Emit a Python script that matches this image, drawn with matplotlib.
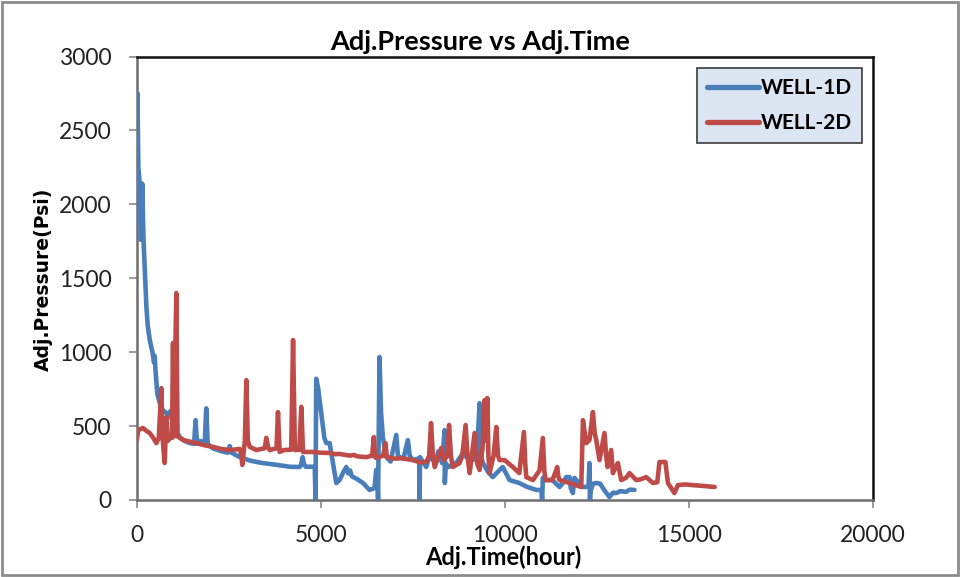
import matplotlib
matplotlib.use("Agg")
import matplotlib.pyplot as plt
from matplotlib.patches import Rectangle

# WELL-1D: adjusted time (hours) and adjusted pressure (psi)
well1_time = [0, 20, 45, 80, 110, 125, 150, 185, 230, 265, 300, 350, 400, 430, 470, 490, 510,
              560, 620, 700, 800, 880, 910, 940, 1050, 1170, 1300, 1440, 1560, 1600, 1640,
              1700, 1850, 1890, 1930, 2065, 2300, 2480, 2530, 2580, 2800, 3100, 3420, 3800,
              4157, 4430, 4470, 4510, 4550, 4600, 4800, 4840, 4860, 4880, 4930, 4972, 5100,
              5153, 5244, 5335, 5425, 5515, 5600, 5697, 5750, 5800, 5850, 6000, 6150, 6330,
              6465, 6510, 6540, 6560, 6600, 6640, 6690, 6783, 6900, 7055, 7100, 7145, 7250,
              7370, 7420, 7510, 7650, 7680, 7690, 7700, 7870, 7960, 8054, 8150, 8200, 8300,
              8370, 8375, 8400, 8470, 8686, 8870, 9000, 9130, 9250, 9320, 9360, 9410, 9550,
              9680, 9863, 9950, 10135, 10400, 10600, 10860, 11000, 11020, 11040, 11130,
              11300, 11493, 11600, 11675, 11765, 11800, 11855, 11900, 11946, 12120, 12280,
              12307, 12320, 12335, 12400, 12490, 12600, 12700, 12850, 12950, 13032, 13150,
              13300, 13400, 13530]
well1_pressure = [2100, 2750, 2250, 2150, 1760, 1780, 2140, 1760, 1500, 1300, 1180, 1090, 1030,
                  1000, 930, 975, 880, 720, 660, 610, 590, 575, 600, 560, 480, 425, 400, 385,
                  380, 540, 380, 400, 390, 620, 380, 350, 330, 320, 365, 320, 290, 265, 250,
                  238, 225, 223, 240, 290, 240, 225, 225, 225, 0, 820, 760, 676, 420, 385,
                  385, 250, 115, 135, 180, 223, 180, 200, 160, 140, 115, 68, 81, 203, 200, 0,
                  967, 600, 426, 290, 260, 440, 300, 290, 280, 405, 300, 270, 280, 270, 0,
                  290, 223, 300, 270, 280, 330, 250, 473, 115, 250, 223, 250, 318, 280, 270,
                  300, 655, 300, 250, 190, 155, 203, 223, 135, 115, 90, 68, 68, 0, 150, 135,
                  135, 88, 120, 155, 155, 80, 47, 150, 135, 88, 90, 250, 0, 60, 110, 115, 110,
                  70, 20, 50, 47, 60, 55, 70, 68]

# WELL-2D: adjusted time (hours) and adjusted pressure (psi)
well2_time = [0, 40, 100, 170, 250, 353, 450, 535, 600, 670, 700, 760, 805, 850, 900, 960,
              987, 1010, 1077, 1110, 1260, 1450, 1620, 1850, 2065, 2300, 2527, 2800, 2850,
              2870, 2940, 2980, 3020, 3070, 3250, 3480, 3523, 3570, 3615, 3800, 3840, 3885,
              4000, 4200, 4250, 4300, 4420, 4475, 4520, 4782, 5000, 5244, 5400, 5500, 5697,
              5800, 5900, 6000, 6240, 6400, 6445, 6480, 6510, 6700, 6760, 6800, 7000, 7200,
              7510, 7690, 7870, 7950, 8000, 8050, 8100, 8280, 8350, 8450, 8490, 8540, 8590,
              8776, 8850, 8940, 8990, 9050, 9185, 9250, 9320, 9400, 9455, 9490, 9530, 9560,
              9590, 9700, 9775, 9820, 9863, 10000, 10225, 10400, 10525, 10560, 10590, 10770,
              10950, 11040, 11080, 11110, 11300, 11400, 11430, 11460, 11493, 11765, 12083,
              12130, 12180, 12220, 12307, 12400, 12450, 12490, 12580, 12715, 12760, 12800,
              12897, 12943, 13078, 13170, 13300, 13395, 13576, 13700, 13850, 14030, 14150,
              14210, 14370, 14440, 14615, 14710, 14900, 15115, 15400, 15710]
well2_pressure = [406, 473, 480, 487, 470, 453, 420, 385, 420, 757, 430, 250, 561, 400, 420,
                  420, 1062, 430, 1400, 430, 406, 395, 385, 370, 360, 345, 338, 345, 300, 237,
                  400, 811, 400, 360, 338, 350, 420, 360, 338, 350, 595, 325, 338, 340, 1082,
                  338, 340, 630, 325, 325, 320, 318, 310, 312, 304, 300, 305, 295, 290, 300,
                  426, 290, 284, 300, 385, 290, 280, 282, 270, 255, 257, 300, 520, 300, 223,
                  352, 270, 300, 507, 300, 223, 250, 300, 507, 300, 182, 453, 250, 203, 350,
                  676, 400, 690, 300, 182, 300, 494, 300, 270, 270, 223, 182, 460, 250, 155,
                  135, 200, 419, 200, 135, 135, 200, 223, 160, 135, 115, 88, 540, 450, 385,
                  406, 595, 450, 406, 270, 453, 300, 223, 338, 182, 250, 135, 150, 182, 135,
                  140, 155, 115, 120, 257, 257, 115, 47, 101, 105, 101, 95, 88]

x_ticks = [0, 5000, 10000, 15000, 20000]
y_ticks = [0, 500, 1000, 1500, 2000, 2500, 3000]

BLUE = "#4a7ebb"
RED = "#be4b48"
TICK_FONT = "Lato"

fig = plt.figure(figsize=(9.61, 5.77), dpi=100)
ax = fig.add_axes([136.7 / 961, 1 - 500 / 577, (872.5 - 136.7) / 961, (500 - 56.5) / 577])

ax.plot(well1_time, well1_pressure, color=BLUE, lw=3.3, solid_joinstyle="round",
        solid_capstyle="round", label="WELL-1D", zorder=3)
ax.plot(well2_time, well2_pressure, color=RED, lw=3.3, solid_joinstyle="round",
        solid_capstyle="round", label="WELL-2D", zorder=4)

ax.set_xlim(0, 20000)
ax.set_ylim(0, 3000)
ax.set_xticks(x_ticks)
ax.set_yticks(y_ticks)
ax.set_xticklabels([str(v) for v in x_ticks], fontfamily=TICK_FONT, fontsize=16.5, color="#222222")
ax.set_yticklabels([str(v) for v in y_ticks], fontfamily=TICK_FONT, fontsize=16.5, color="#222222")
ax.tick_params(axis="y", direction="out", length=6, width=1.2, color="#8a8a8a", pad=12)
ax.tick_params(axis="x", direction="out", length=6, width=1.2, color="#8a8a8a", pad=12)

for side in ("top", "right"):
    ax.spines[side].set_color("#111111")
    ax.spines[side].set_linewidth(1.8)
for side in ("left", "bottom"):
    ax.spines[side].set_color("#6e6e6e")
    ax.spines[side].set_linewidth(1.8)

fig.text(0.5, 1 - 42 / 577, "Adj.Pressure vs Adj.Time", ha="center", va="center",
         fontfamily=TICK_FONT, fontweight="bold", fontsize=19.5)
fig.text(503 / 961, 1 - 557 / 577, "Adj.Time(hour)", ha="center", va="center",
         fontfamily=TICK_FONT, fontweight="bold", fontsize=17)
fig.text(43 / 961, 1 - 279 / 577, "Adj.Pressure(Psi)", ha="center", va="center",
         rotation=90, fontfamily="DejaVu Sans", fontweight="bold", fontsize=13.5)

leg = ax.legend(loc="upper right", bbox_to_anchor=(862 / 961, 1 - 68 / 577),
                bbox_transform=fig.transFigure, frameon=True, fancybox=False,
                prop={"family": TICK_FONT, "weight": "bold", "size": 15},
                handlelength=2.5, handletextpad=0.05, labelspacing=0.7,
                borderpad=0.5, borderaxespad=0)
leg.get_frame().set_facecolor("#dce6f2")
leg.get_frame().set_edgecolor("#3c3c3c")
leg.get_frame().set_linewidth(1.2)
leg.get_frame().set_alpha(1)
for line in leg.get_lines():
    line.set_linewidth(3.8)

# outer chart border
fig.patches.append(Rectangle((0.002, 0.003), 0.995, 0.994, transform=fig.transFigure,
                             fill=False, edgecolor="#8c8c8c", linewidth=2))

fig.savefig("out.png", dpi=100)
